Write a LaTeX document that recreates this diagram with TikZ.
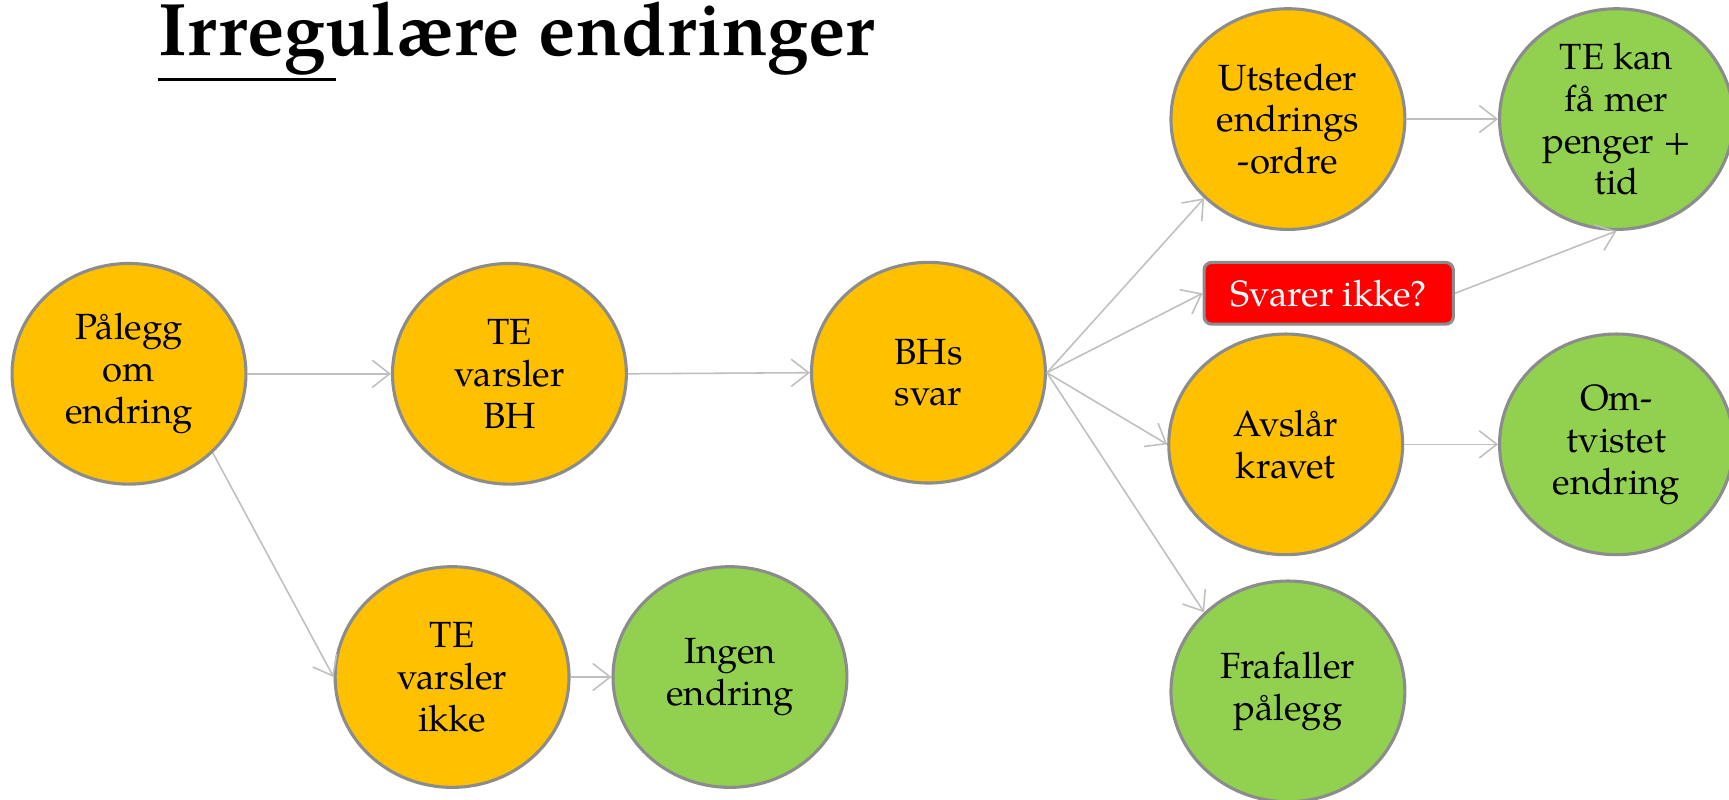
\documentclass[tikz,border=0pt]{standalone}
\usepackage{fontspec}
\setmainfont{TeX Gyre Pagella}
\usetikzlibrary{shapes.geometric,arrows.meta}
\definecolor{ofill}{HTML}{FFC000}
\definecolor{gfill}{HTML}{92D050}
\definecolor{bordergray}{HTML}{8C8C8C}
\definecolor{linegray}{HTML}{BFBFBF}
\definecolor{redbox}{HTML}{FF0000}
\begin{document}
\begin{tikzpicture}[x=0.01cm,y=-0.01cm,
  bub/.style={ellipse, draw=bordergray, line width=0.8pt, minimum width=2.12cm, minimum height=2.0cm, inner sep=0pt, align=center, font=\fontsize{9.4}{10.8}\selectfont},
  obub/.style={bub, fill=ofill},
  gbub/.style={bub, fill=gfill},
  redb/.style={rectangle, rounded corners=2pt, draw=bordergray, line width=0.8pt, fill=redbox, text=white, minimum width=2.26cm, minimum height=0.56cm, inner sep=0pt, font=\fontsize{9.4}{11}\selectfont},
  conn/.style={draw=linegray, line width=0.4pt, -{Straight Barb[length=4.5pt,width=7pt]}},
  titlef/.style={anchor=base west, inner sep=0pt, font=\fontsize{19.2}{23}\bfseries\selectfont}]
\clip (0,0) rectangle (1568,725);
\fill[white] (0,0) rectangle (1568,725);
\node[titlef] (title) at (143,50) {Irregulære endringer};
\coordinate (ul1) at (143,72);
\coordinate (ul2) at (305,72);
\draw[line width=0.85pt] (ul1) -- (ul2);

\node[obub] (pal) at (117,339) {Pålegg\\om\\endring};
\node[obub] (tvb) at (462,339) {TE\\varsler\\BH};
\node[obub] (bhs) at (842,338) {BHs\\svar};
\node[obub] (uts) at (1168,108) {Utsteder\\endrings\\-ordre};
\node[gbub] (tek) at (1466,108) {TE kan\\få mer\\penger +\\tid};
\node[redb] (svi) at (1205,266) {Svarer ikke?};
\node[obub] (avs) at (1166,403) {Avslår\\kravet};
\node[gbub] (omt) at (1466,403) {Om-\\tvistet\\endring};
\node[gbub] (fra) at (1168,627) {Frafaller\\pålegg};
\node[obub] (tvi) at (410,614) {TE\\varsler\\ikke};
\node[gbub] (ing) at (662,614) {Ingen\\endring};

\draw[conn] (pal.east) -- (tvb.west);
\draw[conn] (tvb.east) -- (bhs.west);
\draw[conn] (pal.south east) -- (tvi.west);
\draw[conn] (tvi.east) -- (ing.west);
\draw[conn] (bhs.east) -- (uts.south west);
\draw[conn] (bhs.east) -- (svi.west);
\draw[conn] (bhs.east) -- (avs.west);
\draw[conn] (bhs.east) -- (fra.north west);
\draw[conn] (uts.east) -- (tek.west);
\draw[conn] (svi.east) -- (tek.south);
\draw[conn] (avs.east) -- (omt.west);
\end{tikzpicture}
\end{document}
